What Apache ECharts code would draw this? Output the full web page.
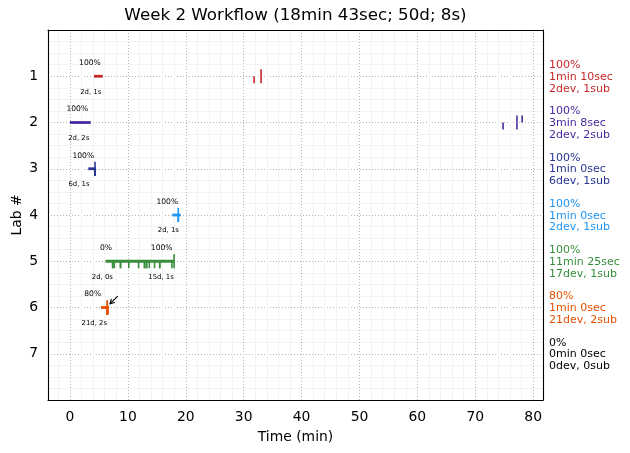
<!DOCTYPE html>
<html><head><meta charset="utf-8">
<script src="https://cdn.jsdelivr.net/npm/echarts@6/dist/echarts.min.js"></script>
<style>html,body{margin:0;padding:0;background:#fff}#c{width:630px;height:453px}</style>
</head><body><div id="c"></div>
<script>
// ---- data ----
const chartTitle = 'Week 2 Workflow (18min 43sec; 50d; 8s)';
const labs = [1, 2, 3, 4, 5, 6, 7];
const labColors = ['#c62828', '#4a2a9e', '#283593', '#2196f3', '#388e3c', '#e65100', '#000000'];
const labScores = [100, 100, 100, 100, 100, 80, 0];
const labDurations = ['1min 10sec', '3min 8sec', '1min 0sec', '1min 0sec', '11min 25sec', '1min 0sec', '0min 0sec'];
const labDevCounts = [2, 2, 6, 2, 17, 21, 0];
const labSubCounts = [1, 2, 1, 1, 1, 2, 0];
const barStart = [4.15, 0.0, 3.16, 17.67, 6.15, 5.35, null];
const barEnd = [5.65, 3.58, 4.44, 19.12, 17.98, 6.75, null];
const devTimes = [
  [31.8, 33.0],
  [74.8, 77.2],
  [4.28, 4.3, 4.3, 4.32, 4.33, 4.35],
  [18.68, 18.72],
  [7.35, 7.4, 7.65, 8.7, 8.75, 10.15, 11.85, 12.85, 12.9, 13.2, 13.25, 13.7, 14.6, 15.48, 15.52, 17.6, 17.98],
  [6.38, 6.39, 6.4, 6.4, 6.41, 6.41, 6.42, 6.42, 6.43, 6.43, 6.43, 6.44, 6.44, 6.44, 6.45, 6.45, 6.46, 6.46, 6.47, 6.47, 6.48],
  []
];
const subTimes = [[33.0], [77.2, 78.1], [4.32], [18.7], [17.98], [6.43, 6.45], []];
const topLabelX = [3.45, 1.26, 2.3, 16.8, 6.22, 15.84, 3.92];
const topLabelLab = [1, 2, 3, 4, 5, 5, 6];
const topLabelText = ['100%', '100%', '100%', '100%', '0%', '100%', '80%'];
const bottomLabelX = [3.58, 1.5, 1.55, 16.98, 5.58, 15.72, 4.2];
const bottomLabelLab = [1, 2, 3, 4, 5, 5, 6];
const bottomLabelText = ['2d, 1s', '2d, 2s', '6d, 1s', '2d, 1s', '2d, 0s', '15d, 1s', '21d, 2s'];
const arrowTail = [8.24, 5.755];
const arrowHead = [6.91, 5.92];
const xMin = -3.8, xMax = 81.7;
const yMin = 0, yMax = 8;
const xTickLabels = [0, 10, 20, 30, 40, 50, 60, 70, 80];
const yTickLabels = [1, 2, 3, 4, 5, 6, 7];

// ---- chart ----
const FONT = 'DejaVu Sans';
const chart = echarts.init(document.getElementById('c'), null, {renderer: 'canvas'});

const barData = [];
labs.forEach((l, i) => { if (barStart[i] != null) barData.push([barStart[i], barEnd[i], l, i]); });
const devData = [], subData = [];
labs.forEach((l, i) => {
  devTimes[i].forEach(t => devData.push([t, l, i]));
  subTimes[i].forEach(t => subData.push([t, l, i]));
});

function tickSeries(data, dir) {
  return {
    type: 'custom', data: data, encode: {x: 0, y: 1}, z: 3,
    renderItem: (p, api) => {
      const a = api.coord([api.value(0), api.value(1)]);
      return {type: 'line', shape: {x1: a[0], y1: a[1], x2: a[0], y2: a[1] + dir * 7},
        style: {stroke: labColors[api.value(2)], lineWidth: 1.6}};
    }
  };
}

function textSeries(xs, ys, texts, dy, size) {
  return {
    type: 'scatter', symbolSize: 1, itemStyle: {color: '#fff', opacity: 0}, z: 5, silent: true,
    data: xs.map((x, i) => [x, ys[i], texts[i]]),
    label: {show: true, position: 'inside', offset: [0, dy], formatter: p => p.data[2], opacity: 1,
      fontSize: size, color: '#000', textBorderWidth: 0, fontFamily: FONT, align: 'center', verticalAlign: 'middle'}
  };
}

const frameLine = {show: true, onZero: false, lineStyle: {color: '#000', width: 1.1}};
const hiddenAxisParts = {axisTick: {show: false}, axisLabel: {show: false}, splitLine: {show: false}};

const option = {
  animation: false,
  backgroundColor: '#fff',
  textStyle: {fontFamily: FONT},
  title: {text: chartTitle, left: 295.5, top: 7, textAlign: 'center', padding: 0,
    textStyle: {fontSize: 16.7, fontWeight: 'normal', color: '#000', fontFamily: FONT, lineHeight: 18}},
  grid: {left: 48, right: 87, top: 30, bottom: 53, show: false, containLabel: false, outerBoundsMode: 'none'},
  xAxis: [{
    type: 'value', min: xMin, max: xMax, minInterval: 10, maxInterval: 10, position: 'bottom',
    name: 'Time (min)', nameLocation: 'middle', nameGap: 30, nameMoveOverlap: false,
    nameTextStyle: {fontSize: 13.9, color: '#000', fontFamily: FONT},
    axisLine: frameLine, axisTick: {show: false},
    axisLabel: {fontSize: 13.9, color: '#000', margin: 10, fontFamily: FONT,
      formatter: v => xTickLabels.some(t => Math.abs(t - v) < 1e-6) ? String(Math.round(v)) : ''},
    splitLine: {show: true, showMinLine: false, showMaxLine: false, lineStyle: {color: '#b4b4b4', type: [1, 2], width: 1}},
    minorTick: {show: false, splitNumber: 5},
    minorSplitLine: {show: true, lineStyle: {color: '#f3f3f3', width: 1}}
  }, Object.assign({type: 'value', min: xMin, max: xMax, position: 'top', axisLine: frameLine}, hiddenAxisParts)],
  yAxis: [{
    type: 'value', min: yMin, max: yMax, interval: 1, inverse: true, position: 'left',
    name: 'Lab #', nameLocation: 'middle', nameGap: 24, nameMoveOverlap: false,
    nameTextStyle: {fontSize: 13.9, color: '#000', fontFamily: FONT},
    axisLine: frameLine, axisTick: {show: false},
    axisLabel: {fontSize: 13.9, color: '#000', margin: 10, fontFamily: FONT,
      formatter: v => yTickLabels.indexOf(v) >= 0 ? String(v) : ''},
    splitLine: {show: true, showMinLine: false, showMaxLine: false, lineStyle: {color: '#b4b4b4', type: [1, 2], width: 1}},
    minorTick: {show: false, splitNumber: 4},
    minorSplitLine: {show: true, lineStyle: {color: '#f3f3f3', width: 1}}
  }, Object.assign({type: 'value', min: yMin, max: yMax, inverse: true, position: 'right', axisLine: frameLine}, hiddenAxisParts)],
  series: [
    {
      type: 'custom', data: barData, encode: {x: [0, 1], y: 2}, z: 2,
      renderItem: (p, api) => {
        const a = api.coord([api.value(0), api.value(2)]);
        const b = api.coord([api.value(1), api.value(2)]);
        return {type: 'line', shape: {x1: a[0], y1: a[1], x2: b[0], y2: b[1]},
          style: {stroke: labColors[api.value(3)], lineWidth: 2.8}};
      }
    },
    tickSeries(devData, 1),
    tickSeries(subData, -1),
    textSeries(topLabelX, topLabelLab, topLabelText, -13.1, 7.6),
    textSeries(bottomLabelX, bottomLabelLab, bottomLabelText, 15.5, 6.9),
    {
      type: 'scatter', symbolSize: 1, itemStyle: {color: '#fff', opacity: 0}, clip: false, silent: true,
      data: labs.map((l, i) => ({value: [xMax, l],
        label: {color: labColors[i],
          formatter: labScores[i] + '%\n' + labDurations[i] + '\n' + labDevCounts[i] + 'dev, ' + labSubCounts[i] + 'sub'}})),
      label: {show: true, position: 'right', distance: 5.5, offset: [0, 0.8], fontSize: 11, lineHeight: 11.8, opacity: 1, textBorderWidth: 0,
        fontFamily: FONT, align: 'left', verticalAlign: 'middle'}
    },
    {
      type: 'custom', data: [[arrowTail[0], arrowTail[1], arrowHead[0], arrowHead[1]]], encode: {x: [0, 2], y: [1, 3]}, z: 6,
      renderItem: (p, api) => {
        const t = api.coord([api.value(0), api.value(1)]);
        const h = api.coord([api.value(2), api.value(3)]);
        const ang = Math.atan2(h[1] - t[1], h[0] - t[0]);
        const L = 5, w = 0.5;
        const p1 = [h[0] - L * Math.cos(ang - w), h[1] - L * Math.sin(ang - w)];
        const p2 = [h[0] - L * Math.cos(ang + w), h[1] - L * Math.sin(ang + w)];
        return {type: 'group', children: [
          {type: 'line', shape: {x1: t[0], y1: t[1], x2: h[0], y2: h[1]}, style: {stroke: '#000', lineWidth: 1.1}},
          {type: 'polyline', shape: {points: [p1, h, p2]}, style: {stroke: '#000', lineWidth: 1.1, fill: null}}
        ]};
      }
    }
  ]
};
chart.setOption(option);
</script>
</body></html>
